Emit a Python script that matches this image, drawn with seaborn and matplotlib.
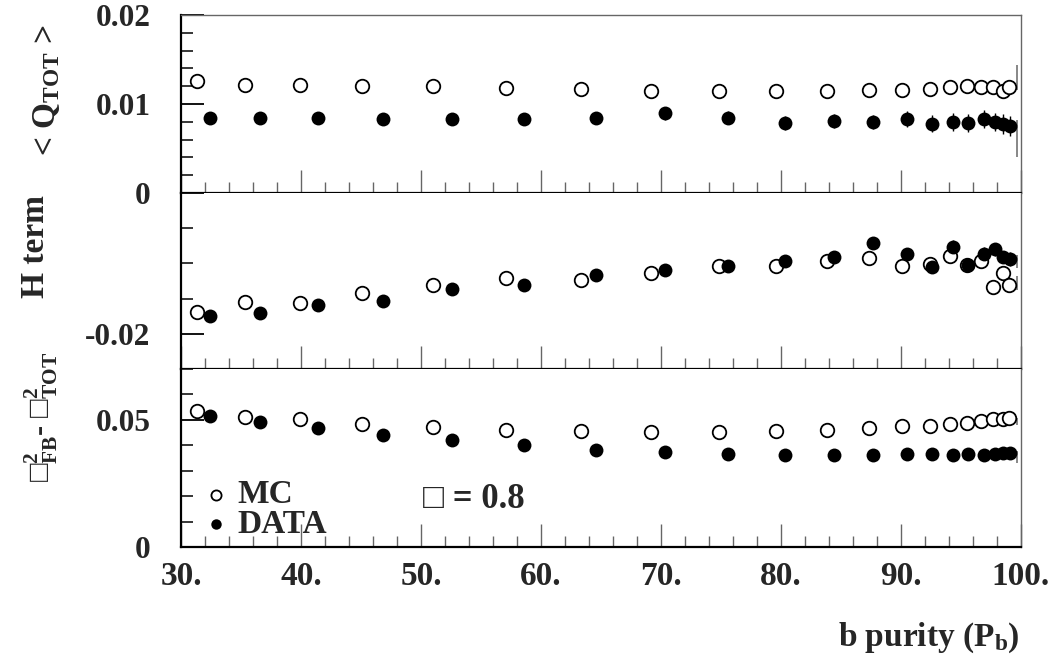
import numpy as np
import pandas as pd
import matplotlib.pyplot as plt
import seaborn as sns
from matplotlib.ticker import MultipleLocator, FixedLocator

# purity values (%) of the cut points
mc_pb = [31.3, 35.3, 39.9, 45.1, 51.0, 57.1, 63.3, 69.2, 74.8, 79.6,
         83.8, 87.3, 90.1, 92.4, 94.1, 95.5, 96.7, 97.7, 98.5, 99.0]
data_pb = [32.4, 36.6, 41.4, 46.8, 52.6, 58.6, 64.6, 70.3, 75.6, 80.3,
           84.4, 87.7, 90.5, 92.6, 94.3, 95.6, 96.9, 97.8, 98.5, 99.1]

# < Q_TOT >
mc_q = [0.0126, 0.0121, 0.0121, 0.0120, 0.0120, 0.0118, 0.0117, 0.0115, 0.0115, 0.0115,
        0.0115, 0.0116, 0.0116, 0.0117, 0.0119, 0.0120, 0.0119, 0.0119, 0.0115, 0.0119]
mc_q_err = [0.0002, 0.0002, 0.0002, 0.0002, 0.0002, 0.0002, 0.0002, 0.0003, 0.0003, 0.0003,
            0.0003, 0.0004, 0.0004, 0.0004, 0.0005, 0.0006, 0.0006, 0.0007, 0.0007, 0.0008]
data_q = [0.0084, 0.0084, 0.0084, 0.00835, 0.0083, 0.00835, 0.0084, 0.00895, 0.00846, 0.0079,
          0.0081, 0.0080, 0.00835, 0.0078, 0.0080, 0.0079, 0.0083, 0.0080, 0.00775, 0.0075]
data_q_err = [0.0003, 0.0003, 0.0003, 0.0003, 0.0003, 0.0003, 0.0004, 0.0007, 0.0007, 0.0008,
              0.0008, 0.0008, 0.0009, 0.0010, 0.0010, 0.0010, 0.0010, 0.0010, 0.0011, 0.0011]

# H term
mc_h = [-0.0169, -0.0155, -0.0156, -0.0142, -0.0131, -0.0121, -0.0123, -0.0113, -0.0103, -0.0103,
        -0.0097, -0.0092, -0.0103, -0.0101, -0.0089, -0.0102, -0.0097, -0.0133, -0.0114, -0.0130]
mc_h_err = [0.0002] * 10 + [0.0003, 0.0003, 0.0004, 0.0004, 0.0005, 0.0005, 0.0006, 0.0006, 0.0007, 0.0007]
data_h = [-0.0175, -0.0171, -0.0159, -0.0153, -0.0136, -0.0131, -0.0116, -0.0109, -0.0104, -0.0096,
          -0.0091, -0.0071, -0.0086, -0.0105, -0.0077, -0.0102, -0.0086, -0.0080, -0.0091, -0.0094]
data_h_err = [0.0003] * 7 + [0.0005, 0.0005, 0.0006, 0.0006, 0.0007, 0.0007, 0.0008, 0.0010,
                             0.0008, 0.0009, 0.0009, 0.0009, 0.0010]

# sigma_FB^2 - sigma_TOT^2
mc_s = [0.0535, 0.0513, 0.0503, 0.0482, 0.0470, 0.0461, 0.0456, 0.0453, 0.0453, 0.0457,
        0.0461, 0.0467, 0.0474, 0.0476, 0.0483, 0.0489, 0.0496, 0.0505, 0.0505, 0.0509]
mc_s_err = [0.0005] * 20
data_s = [0.0516, 0.0492, 0.0467, 0.0442, 0.0419, 0.0402, 0.0383, 0.0374, 0.0366, 0.0361,
          0.0360, 0.0360, 0.0365, 0.0366, 0.0362, 0.0367, 0.0362, 0.0365, 0.0369, 0.0369]
data_s_err = [0.0008] * 20

# last cut point: only the (large) error bars are visible at the frame edge
edge_pb = [99.7, 99.7]
edge_q = [0.0130, 0.0061]
edge_q_err = [0.0014, 0.0021]
edge_h = [-0.0097, -0.0128]
edge_h_err = [0.0009, 0.0010]
edge_s = [0.0494, 0.0354]
edge_s_err = [0.0014, 0.0024]

xtick_vals = [30, 40, 50, 60, 70, 80, 90, 100]
xtick_labels = ["30.", "40.", "50.", "60.", "70.", "80.", "90.", "100."]

sns.set_style("white")
plt.rcParams['font.family'] = ['Liberation Serif', 'DejaVu Sans']
plt.rcParams['font.weight'] = 'bold'
plt.rcParams['mathtext.fontset'] = 'custom'
plt.rcParams['mathtext.rm'] = 'Liberation Serif:bold'
plt.rcParams['mathtext.bf'] = 'Liberation Serif:bold'
plt.rcParams['mathtext.it'] = 'Liberation Serif:bold'
plt.rcParams['mathtext.fallback'] = 'stix'

fig = plt.figure(figsize=(10.57, 6.62), dpi=100)
W, H = 1057, 662
left, right = 181 / W, 1021 / W
panels = [(15, 193), (193, 369), (369, 547)]
axes = []
for top, bot in panels:
    axes.append(fig.add_axes([left, (H - bot) / H, right - left, (bot - top) / H]))

sets = [
    (mc_q, mc_q_err, data_q, data_q_err, edge_q, edge_q_err),
    (mc_h, mc_h_err, data_h, data_h_err, edge_h, edge_h_err),
    (mc_s, mc_s_err, data_s, data_s_err, edge_s, edge_s_err),
]
ylims = [(0, 0.02), (-0.025, 0), (0, 0.07)]
ymajor = [[0, 0.01, 0.02], [0, -0.02], [0, 0.05]]
yminor = [0.002, 0.005, 0.01]
ylabels = [["0", "0.01", "0.02"], ["", "-0.02"], ["0", "0.05"]]

for i, ax in enumerate(axes):
    mc_y, mc_e, d_y, d_e, e_y, e_e = sets[i]
    ax.errorbar(mc_pb, mc_y, yerr=mc_e, fmt='none', ecolor='black', elinewidth=1, zorder=2)
    ax.errorbar(data_pb, d_y, yerr=d_e, fmt='none', ecolor='black', elinewidth=1, zorder=2)
    ax.errorbar(edge_pb, e_y, yerr=e_e, fmt='none', ecolor='0.45', elinewidth=1.2, zorder=2)
    sns.scatterplot(x=mc_pb, y=mc_y, ax=ax, marker='o', s=95, color='white',
                    edgecolor='black', linewidth=1.3, label='MC', zorder=3)
    sns.scatterplot(x=data_pb, y=d_y, ax=ax, marker='o', s=100, color='black',
                    edgecolor='black', linewidth=0, label='DATA', zorder=4)

    ax.set_xlim(30, 100)
    ax.set_ylim(*ylims[i])
    ax.xaxis.set_major_locator(MultipleLocator(10))
    ax.xaxis.set_minor_locator(MultipleLocator(2))
    ax.yaxis.set_major_locator(FixedLocator(ymajor[i]))
    ax.yaxis.set_minor_locator(MultipleLocator(yminor[i]))
    ax.set_yticklabels(ylabels[i])
    ax.tick_params(axis='x', which='major', direction='in', length=16.5, width=1,
                   color='0.4', bottom=True, top=False)
    ax.tick_params(axis='x', which='minor', direction='in', length=8, width=1,
                   color='0.4', bottom=True, top=False)
    ax.tick_params(axis='y', which='major', direction='in', length=16.5, width=1.3,
                   color='black', left=True, right=False, pad=22, labelsize=22.5)
    ax.tick_params(axis='y', which='minor', direction='in', length=8.5, width=1.1,
                   color='black', left=True, right=False)
    for lab in ax.get_yticklabels():
        lab.set_fontweight('bold')

    ax.spines['left'].set_linewidth(1.6)
    ax.spines['left'].set_color('black')
    ax.spines['bottom'].set_linewidth(1.6)
    ax.spines['bottom'].set_color('black')
    ax.spines['right'].set_linewidth(1.0)
    ax.spines['right'].set_color('0.4')
    ax.spines['top'].set_linewidth(1.0)
    ax.spines['top'].set_color('0.4')
    if i > 0:
        ax.spines['top'].set_visible(False)
    ax.set_xlabel('')
    ax.set_ylabel('')
    if i < 2:
        ax.set_xticklabels([])
        ax.get_legend().remove()

bax = axes[2]
bax.set_xticks(xtick_vals)
bax.set_xticklabels(xtick_labels, fontsize=24, fontweight='bold')
bax.tick_params(axis='x', which='major', pad=10)

leg = bax.legend(loc='upper left', bbox_to_anchor=(0.022, 0.38), frameon=False,
                 prop={'family': 'Liberation Serif', 'weight': 'bold', 'size': 24},
                 labelspacing=-0.05, handletextpad=0.15, handlelength=1.0,
                 borderpad=0, borderaxespad=0, markerscale=0.75)

bax.text(0.288, 0.265, "□ = 0.8", transform=bax.transAxes, ha='left', va='center',
         fontsize=25, fontweight='bold')

fig.text(46 / W, 1 - 25 / H, r'< Q$_\mathrm{TOT}$ >', rotation=90,
         ha='center', va='top', fontsize=24, fontweight='bold')
fig.text(35 / W, 1 - 195 / H, 'H term', rotation=90,
         ha='center', va='top', fontsize=24, fontweight='bold')
fig.text(41 / W, 1 - 352 / H, r'□$^2_\mathrm{FB}$- □$^2_\mathrm{TOT}$', rotation=90,
         ha='center', va='top', fontsize=22, fontweight='bold')

fig.text(1020 / W, 1 - 638 / H, r'b purity (P$_\mathrm{b}$)', ha='right', va='center',
         fontsize=24, fontweight='bold')

plt.savefig("out.png", dpi=100)
